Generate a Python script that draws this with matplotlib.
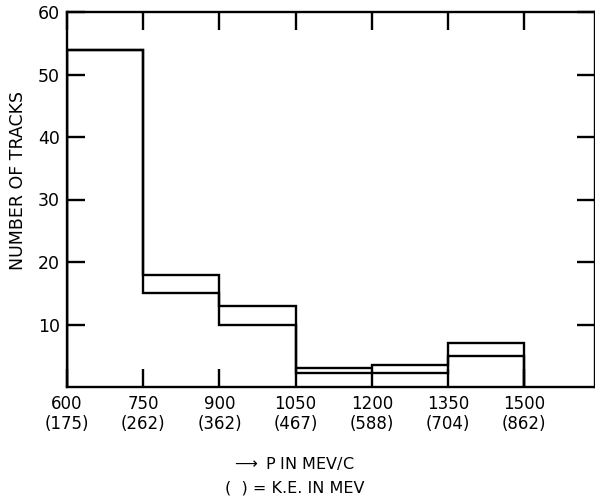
import matplotlib
matplotlib.use("Agg")
import matplotlib.pyplot as plt
import numpy as np

# Data
bin_edges = [600, 750, 900, 1050, 1200, 1350, 1500]
upper_counts = [54, 18, 13, 3, 3.5, 7]
lower_counts = [54, 15, 10, 2.2, 2.2, 5]
momentum_ticks = [600, 750, 900, 1050, 1200, 1350, 1500]
ke_labels = ["175", "262", "362", "467", "588", "704", "862"]
y_ticks = [10, 20, 30, 40, 50, 60]

plt.rcParams['font.family'] = ['DejaVu Sans']

fig = plt.figure(figsize=(5.95, 4.99), dpi=100)
W, H = 595, 499
left, right, top, bottom = 67, 594.5, 12, 387
ax = fig.add_axes([left / W, (H - bottom) / H, (right - left) / W, (bottom - top) / H])

lw = 1.7
ax.stairs(upper_counts, bin_edges, color="black", linewidth=lw, baseline=0)
ax.stairs(lower_counts, bin_edges, color="black", linewidth=lw, baseline=0)

ax.set_xlim(600, 1638)
ax.set_ylim(0, 60)

for s in ax.spines.values():
    s.set_linewidth(lw)

ax.set_xticks(momentum_ticks)
ax.set_xticklabels([f"{m}\n({k})" for m, k in zip(momentum_ticks, ke_labels)],
                   fontsize=12, linespacing=1.15)
ax.set_yticks(y_ticks)
ax.set_yticklabels([str(v) for v in y_ticks], fontsize=12.5)

ax.tick_params(axis="both", direction="in", length=13, width=lw,
               top=True, right=True, pad=5)
ax.tick_params(axis="x", pad=6)

ax.set_ylabel("NUMBER OF TRACKS", fontsize=12.5)
ax.yaxis.set_label_coords((27 - left) / (right - left), 0.5 - (180 - (top + bottom) / 2) / (bottom - top))

fig.text(293 / W, 1 - 463 / H, r"$\longrightarrow$ P IN MEV/C", ha="center", va="center", fontsize=11.5)
fig.text(295 / W, 1 - 488 / H, "(  ) = K.E. IN MEV", ha="center", va="center", fontsize=11.5)

fig.savefig("out.png", dpi=100)
